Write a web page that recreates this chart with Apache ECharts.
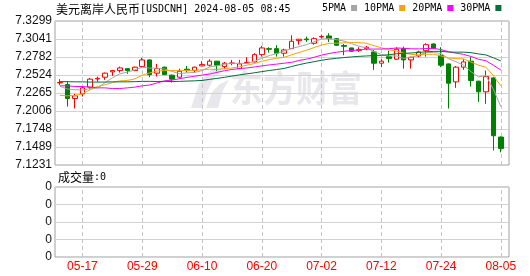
<!DOCTYPE html>
<html>
<head>
<meta charset="utf-8">
<script src="https://cdn.jsdelivr.net/npm/echarts@6.0.0/dist/echarts.min.js"></script>
<style>html,body{margin:0;padding:0;background:#fff}#c{width:530px;height:276px}</style>
</head>
<body>
<div id="c"></div>
<script>
const titleCn = '美元离岸人民币';
const titleCode = '[USDCNH] 2024-08-05 08:45';
const dates = ['05-14','05-15','05-16','05-17','05-20','05-21','05-22','05-23','05-24','05-27',
 '05-28','05-29','05-30','05-31','06-03','06-04','06-05','06-06','06-07','06-10',
 '06-11','06-12','06-13','06-14','06-17','06-18','06-19','06-20','06-21','06-24',
 '06-25','06-26','06-27','06-28','07-01','07-02','07-03','07-04','07-05','07-08',
 '07-09','07-10','07-11','07-12','07-15','07-16','07-17','07-18','07-19','07-22',
 '07-23','07-24','07-25','07-26','07-29','07-30','07-31','08-01','08-02','08-05'];
const xTickLabels = ['05-17','05-29','06-10','06-20','07-02','07-12','07-24','08-05'];
const priceTicks = ['7.1231','7.1489','7.1748','7.2006','7.2265','7.2524','7.2782','7.3041','7.3299'];
const volTicks = ['0','0','0','0','0'];

const opens = [7.2410,7.2386,7.2186,7.2253,7.2349,7.2466,7.2492,7.2568,7.2587,7.2615,
 7.2587,7.2644,7.2740,7.2550,7.2636,7.2521,7.2492,7.2607,7.2587,7.2654,
 7.2664,7.2722,7.2644,7.2688,7.2615,7.2697,7.2711,7.2816,7.2902,7.2902,
 7.2836,7.2902,7.3017,7.3040,7.2979,7.3069,7.3084,7.3045,7.2946,7.2912,
 7.2878,7.2902,7.2855,7.2693,7.2787,7.2750,7.2902,7.2740,7.2797,7.2873,
 7.2969,7.2807,7.2683,7.2425,7.2636,7.2722,7.2435,7.2282,7.2482,7.1632];
const closes = [7.2415,7.2186,7.2224,7.2339,7.2464,7.2476,7.2550,7.2587,7.2625,7.2587,
 7.2636,7.2740,7.2529,7.2615,7.2529,7.2464,7.2578,7.2587,7.2636,7.2673,
 7.2722,7.2664,7.2693,7.2697,7.2683,7.2705,7.2816,7.2912,7.2893,7.2836,
 7.2883,7.3008,7.3037,7.3030,7.3045,7.3078,7.3045,7.2951,7.2936,7.2865,
 7.2888,7.2922,7.2693,7.2722,7.2759,7.2893,7.2740,7.2779,7.2855,7.2959,
 7.2902,7.2664,7.2406,7.2636,7.2711,7.2444,7.2282,7.2501,7.1651,7.1469];
const lows = [7.2378,7.2071,7.2042,7.2214,7.2320,7.2425,7.2454,7.2511,7.2558,7.2540,
 7.2578,7.2644,7.2492,7.2501,7.2521,7.2415,7.2472,7.2558,7.2558,7.2650,
 7.2644,7.2578,7.2607,7.2664,7.2615,7.2693,7.2705,7.2787,7.2845,7.2787,
 7.2787,7.2897,7.2959,7.2998,7.2959,7.3045,7.2998,7.2941,7.2807,7.2860,
 7.2855,7.2879,7.2597,7.2636,7.2701,7.2740,7.2615,7.2615,7.2779,7.2787,
 7.2897,7.2636,7.2042,7.2339,7.2597,7.2358,7.2138,7.2110,7.1440,7.1412];
const highs = [7.2464,7.2435,7.2253,7.2358,7.2482,7.2501,7.2558,7.2597,7.2644,7.2620,
 7.2644,7.2769,7.2745,7.2683,7.2644,7.2530,7.2615,7.2654,7.2644,7.2722,
 7.2750,7.2726,7.2711,7.2740,7.2740,7.2779,7.2836,7.2941,7.2922,7.2951,
 7.2902,7.3094,7.3040,7.3074,7.3065,7.3103,7.3123,7.3055,7.2969,7.2915,
 7.2922,7.2941,7.2883,7.2750,7.2873,7.2922,7.2931,7.2785,7.2873,7.2979,
 7.2979,7.2922,7.2690,7.2654,7.2750,7.2779,7.2440,7.2587,7.2490,7.1641];

const ma5 = [7.2360,7.2322,7.2312,7.2308,7.2326,7.2338,7.2411,7.2483,7.2540,7.2565,
 7.2597,7.2635,7.2623,7.2621,7.2610,7.2575,7.2543,7.2555,7.2559,7.2588,
 7.2639,7.2656,7.2678,7.2690,7.2692,7.2688,7.2719,7.2763,7.2802,7.2832,
 7.2868,7.2906,7.2931,7.2959,7.3001,7.3040,7.3047,7.3030,7.3011,7.2975,
 7.2937,7.2912,7.2861,7.2818,7.2797,7.2798,7.2761,7.2779,7.2805,7.2845,
 7.2847,7.2832,7.2757,7.2713,7.2664,7.2572,7.2496,7.2515,7.2318,7.2069];
const ma10 = [7.2231,7.2224,7.2231,7.2253,7.2310,7.2358,7.2382,7.2415,7.2439,7.2445,
 7.2467,7.2523,7.2553,7.2581,7.2587,7.2586,7.2589,7.2589,7.2590,7.2599,
 7.2607,7.2600,7.2616,7.2624,7.2640,7.2664,7.2688,7.2720,7.2746,7.2762,
 7.2778,7.2813,7.2847,7.2880,7.2917,7.2954,7.2977,7.2981,7.2985,7.2988,
 7.2988,7.2980,7.2945,7.2915,7.2886,7.2867,7.2837,7.2820,7.2812,7.2821,
 7.2822,7.2797,7.2768,7.2759,7.2755,7.2710,7.2664,7.2636,7.2516,7.2367];
const ma20 = [7.2368,7.2368,7.2358,7.2358,7.2349,7.2339,7.2339,7.2329,7.2329,7.2339,
 7.2349,7.2368,7.2380,7.2410,7.2440,7.2450,7.2470,7.2490,7.2505,7.2522,
 7.2537,7.2561,7.2585,7.2603,7.2614,7.2625,7.2638,7.2655,7.2668,7.2680,
 7.2693,7.2706,7.2732,7.2752,7.2778,7.2809,7.2832,7.2850,7.2865,7.2875,
 7.2883,7.2896,7.2896,7.2897,7.2901,7.2911,7.2907,7.2900,7.2898,7.2904,
 7.2905,7.2888,7.2857,7.2837,7.2820,7.2789,7.2750,7.2728,7.2664,7.2594];
const ma30 = [7.2428,7.2428,7.2425,7.2425,7.2422,7.2422,7.2422,7.2425,7.2425,7.2425,
 7.2428,7.2432,7.2432,7.2430,7.2432,7.2430,7.2432,7.2436,7.2440,7.2445,
 7.2460,7.2475,7.2490,7.2508,7.2525,7.2540,7.2555,7.2572,7.2588,7.2602,
 7.2618,7.2645,7.2672,7.2695,7.2715,7.2735,7.2751,7.2763,7.2774,7.2783,
 7.2791,7.2797,7.2803,7.2806,7.2814,7.2828,7.2834,7.2840,7.2847,7.2857,
 7.2863,7.2863,7.2853,7.2851,7.2852,7.2844,7.2826,7.2812,7.2771,7.2725];
const volumes = [0,0,0,0,0,0,0,0,0,0, 0,0,0,0,0,0,0,0,0,0, 0,0,0,0,0,0,0,0,0,0,
 0,0,0,0,0,0,0,0,0,0, 0,0,0,0,0,0,0,0,0,0, 0,0,0,0,0,0,0,0,0,0];
const maNames = ['5PMA','10PMA','20PMA','30PMA'];
const maColors = ['#a4a4a4','#f5a30a','#ff00ff','#00703a'];
const maValues = [ma5, ma10, ma20, ma30];

const chart = echarts.init(document.getElementById('c'), null, {renderer:'canvas'});
const candleData = dates.map((d, i) => [opens[i], closes[i], lows[i], highs[i]]);
const FONT = '"Liberation Sans","Noto Sans CJK SC",sans-serif';
const MONO = '"DejaVu Sans Mono",monospace';
const richStyles = {
  c: {fontFamily: '"Noto Sans CJK SC"', fontSize: 12, fill: '#000', color: '#000'},
  a: {fontFamily: MONO, fontSize: 10, fill: '#000', color: '#000'}
};
const dashLines = {
  silent: true, symbol: ['none','none'], z: 1,
  label: {show: false}, emphasis: {disabled: true},
  lineStyle: {color: '#c4c4c4', type: [4,3], width: 1},
  data: xTickLabels.map(v => ({xAxis: v}))
};
const option = {
  animation: false,
  backgroundColor: '#fff',
  textStyle: {fontFamily: FONT},
  legend: {
    data: maNames, left: 322, top: 3, align: 'right', icon: 'rect',
    itemWidth: 6, itemHeight: 6, itemGap: 7, selectedMode: false, padding: 0,
    textStyle: {fontFamily: MONO, fontSize: 10, color: '#000'}
  },
  graphic: [
    {type: 'text', left: 56, top: 3, z: 10,
     style: {text: '{c|' + titleCn + '}{a|' + titleCode + '}', rich: richStyles, fill: '#000'}},
    {type: 'text', left: 58, top: 171, z: 10,
     style: {text: '{c|成交量}{a|:' + volumes[volumes.length - 1] + '}', rich: richStyles, fill: '#000'}},
    {type: 'text', left: 230, top: 70, z: -1, scaleY: 1.1,
     style: {text: '东方财富', font: 'bold 33px "Noto Sans CJK SC"', fill: '#e8e8ec'}},
    {type: 'polygon', z: -1,
     shape: {points: [[191,108],[199,84],[206,74],[216,67],[228,64],[222,70],[214,78],[208,90],[202,108]]},
     style: {fill: '#e8e8ec'}},
    {type: 'polygon', z: -1,
     shape: {points: [[206,108],[212,92],[220,84],[229,80],[223,90],[218,108]]},
     style: {fill: '#e8e8ec'}}
  ],
  grid: [
    {left: 55, top: 21, width: 454, height: 144, show: true, borderColor: '#a0a0a0', borderWidth: 1, backgroundColor: 'transparent'},
    {left: 56.3, top: 21, width: 448.3, height: 144},
    {left: 55, top: 187, width: 454, height: 70, show: true, borderColor: '#a0a0a0', borderWidth: 1, backgroundColor: 'transparent'},
    {left: 56.3, top: 187, width: 448.3, height: 70}
  ],
  xAxis: [
    {gridIndex: 0, type: 'value', min: 0, max: 1, show: false},
    {gridIndex: 1, type: 'category', data: dates, boundaryGap: true, show: false},
    {gridIndex: 2, type: 'value', min: 0, max: 1, show: false},
    {gridIndex: 3, type: 'category', data: dates, boundaryGap: true,
     axisLine: {show: false}, axisTick: {show: false}, splitLine: {show: false},
     axisLabel: {interval: (i, v) => xTickLabels.includes(v), color: '#ff0000', fontSize: 12, margin: 4, fontFamily: FONT, hideOverlap: false}}
  ],
  yAxis: [
    {gridIndex: 0, type: 'value', min: 0, max: 8, interval: 1,
     axisLine: {show: false}, axisTick: {show: false},
     splitLine: {show: true, lineStyle: {color: '#d2d2d2', width: 1, type: 'solid'}},
     axisLabel: {formatter: v => priceTicks[v], color: '#111', fontSize: 12, margin: 3, fontFamily: FONT}},
    {gridIndex: 1, type: 'value', min: +priceTicks[0], max: +priceTicks[priceTicks.length - 1], show: false},
    {gridIndex: 2, type: 'value', min: 0, max: 4, interval: 1,
     axisLine: {show: false}, axisTick: {show: false},
     splitLine: {show: true, lineStyle: {color: '#d2d2d2', width: 1, type: 'solid'}},
     axisLabel: {formatter: v => volTicks[v], color: '#111', fontSize: 12, margin: 3, fontFamily: FONT}},
    {gridIndex: 3, type: 'value', min: 0, max: 4, show: false}
  ],
  series: [
    {type: 'candlestick', name: 'K', xAxisIndex: 1, yAxisIndex: 1, data: candleData,
     barWidth: 5, silent: true, z: 2,
     itemStyle: {color: '#ffffff', color0: '#008000', borderColor: '#ff0000', borderColor0: '#008000', borderWidth: 1},
     markLine: dashLines},
    ...maNames.map((n, k) => ({
      type: 'line', name: n, xAxisIndex: 1, yAxisIndex: 1, data: maValues[k],
      showSymbol: false, symbol: 'none', silent: true, z: 3,
      lineStyle: {width: 1, color: maColors[k]}, itemStyle: {color: maColors[k]}
    })),
    {type: 'bar', name: 'VOL', xAxisIndex: 3, yAxisIndex: 3, data: volumes, silent: true,
     itemStyle: {color: '#008000'}, markLine: dashLines}
  ]
};
chart.setOption(option);
</script>
</body>
</html>
